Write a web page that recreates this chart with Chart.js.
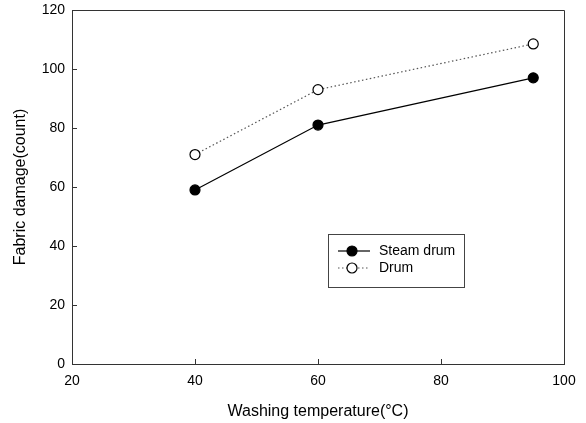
<!DOCTYPE html>
<html>
<head>
<meta charset="utf-8">
<script src="https://cdn.jsdelivr.net/npm/chart.js@4/dist/chart.umd.min.js"></script>
<style>
  html, body { margin: 0; padding: 0; background: #fff; }
  #wrap { width: 586px; height: 423px; }
</style>
</head>
<body>
<div id="wrap"><canvas id="grafico"></canvas></div>
<script>
const temperaturas = [40, 60, 95];
const steamDrum = [59, 81, 97];
const drum = [71, 93, 108.5];
const xTicks = [20, 40, 60, 80, 100];
const yTicks = [0, 20, 40, 60, 80, 100, 120];

const fonte = "'Liberation Sans', Arial, sans-serif";

// moldura, ticks para dentro e legenda dentro do grafico
const extras = {
  id: 'extras',
  afterDraw(chart) {
    const ctx = chart.ctx;
    const a = chart.chartArea;
    const sx = chart.scales.x, sy = chart.scales.y;
    ctx.save();
    ctx.strokeStyle = '#333';
    ctx.lineWidth = 1;
    ctx.beginPath();
    ctx.moveTo(a.left, a.top + 0.5);
    ctx.lineTo(a.right + 0.5, a.top + 0.5);
    ctx.lineTo(a.right + 0.5, a.bottom);
    ctx.stroke();

    ctx.beginPath();
    xTicks.slice(1, -1).forEach(v => {
      const px = Math.round(sx.getPixelForValue(v)) + 0.5;
      ctx.moveTo(px, a.bottom);
      ctx.lineTo(px, a.bottom - 5);
    });
    yTicks.slice(1, -1).forEach(v => {
      const py = Math.round(sy.getPixelForValue(v)) + 0.5;
      ctx.moveTo(a.left, py);
      ctx.lineTo(a.left + 5, py);
    });
    ctx.stroke();

    // legenda
    const bx = a.left + 256, by = a.top + 224;
    ctx.strokeStyle = '#444';
    ctx.strokeRect(bx + 0.5, by + 0.5, 136, 53);
    ctx.font = '14px ' + fonte;
    ctx.textBaseline = 'middle';
    ctx.fillStyle = '#000';
    chart.data.datasets.forEach((ds, i) => {
      const ry = by + 17 + i * 17;
      ctx.strokeStyle = ds.borderColor;
      ctx.lineWidth = 1.2;
      ctx.setLineDash(ds.borderDash || []);
      ctx.beginPath();
      ctx.moveTo(bx + 10, ry);
      ctx.lineTo(bx + 42, ry);
      ctx.stroke();
      ctx.setLineDash([]);
      ctx.beginPath();
      ctx.arc(bx + 24, ry, 5, 0, Math.PI * 2);
      ctx.fillStyle = ds.pointBackgroundColor;
      ctx.fill();
      ctx.strokeStyle = '#000';
      ctx.lineWidth = 1.2;
      ctx.stroke();
      ctx.fillStyle = '#000';
      ctx.fillText(ds.label, bx + 51, ry);
    });
    ctx.restore();
  }
};

new Chart(document.getElementById('grafico').getContext('2d'), {
  type: 'line',
  data: {
    datasets: [{
      label: 'Steam drum',
      data: temperaturas.map((t, i) => ({ x: t, y: steamDrum[i] })),
      borderColor: '#000',
      borderWidth: 1.2,
      pointRadius: 5,
      pointBackgroundColor: '#000',
      pointBorderColor: '#000',
      pointBorderWidth: 1.2,
      tension: 0
    }, {
      label: 'Drum',
      data: temperaturas.map((t, i) => ({ x: t, y: drum[i] })),
      borderColor: '#555',
      borderWidth: 1.2,
      borderDash: [1.5, 2.5],
      pointRadius: 5,
      pointBackgroundColor: '#fff',
      pointBorderColor: '#000',
      pointBorderWidth: 1.2,
      tension: 0
    }]
  },
  options: {
    responsive: true,
    maintainAspectRatio: false,
    animation: false,
    layout: { padding: { left: 0, top: 10, right: 22, bottom: 0 } },
    plugins: {
      legend: { display: false },
      tooltip: { enabled: false }
    },
    scales: {
      x: {
        type: 'linear',
        min: 20,
        max: 100,
        afterBuildTicks: s => { s.ticks = xTicks.map(v => ({ value: v })); },
        afterFit: s => { s.height = 59; s.paddingLeft = 0; s.paddingRight = 0; },
        grid: { display: false, drawTicks: false },
        border: { display: true, color: '#333', width: 1 },
        ticks: { color: '#000', padding: 9, maxRotation: 0, font: { family: fonte, size: 14 } },
        title: {
          display: true,
          text: 'Washing temperature(°C)',
          color: '#000',
          font: { family: fonte, size: 16 },
          padding: { top: 0, bottom: 2 }
        }
      },
      y: {
        type: 'linear',
        min: 0,
        max: 120,
        afterBuildTicks: s => { s.ticks = yTicks.map(v => ({ value: v })); },
        afterFit: s => { s.width = 72; s.paddingTop = 0; s.paddingBottom = 0; },
        grid: { display: false, drawTicks: false },
        border: { display: true, color: '#333', width: 1 },
        ticks: { color: '#000', padding: 7, font: { family: fonte, size: 14 } },
        title: {
          display: true,
          text: 'Fabric damage(count)',
          color: '#000',
          font: { family: fonte, size: 16 },
          padding: { top: 11, bottom: 0 }
        }
      }
    }
  },
  plugins: [extras]
});
</script>
</body>
</html>
